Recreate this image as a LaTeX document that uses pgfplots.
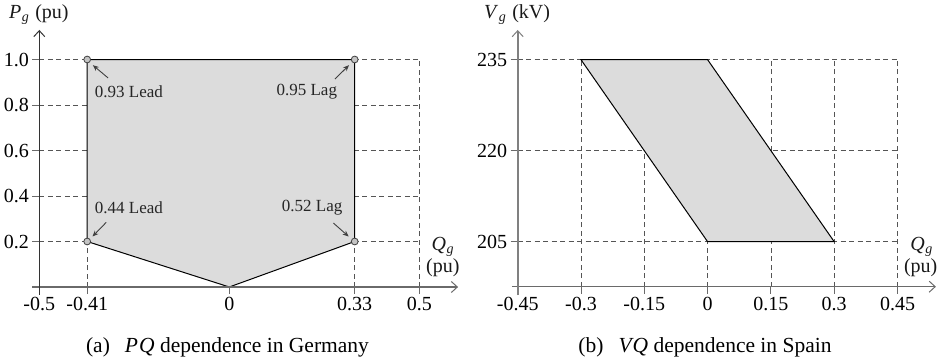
\documentclass[border=0pt]{standalone}
\usepackage{fontspec}
\setmainfont{Liberation Serif}
\usepackage{pgfplots}
\pgfplotsset{compat=1.18}
\usetikzlibrary{arrows.meta}
\definecolor{axgray}{HTML}{6A6A6A}
\definecolor{gridgray}{HTML}{555555}
\definecolor{fillgray}{HTML}{DCDCDC}
\definecolor{mkgray}{HTML}{C4C4C4}
\definecolor{anngray}{HTML}{404040}

\newcommand{\tickfont}{\fontsize{20}{22}\selectfont}
\pgfplotsset{myax/.style={
  scale only axis, clip=false, axis on top=false,
  font=\tickfont,
  axis line style={draw=none},
  tick align=outside, xtick pos=bottom, ytick pos=left,
  major tick length=7pt,
  tick style={draw=axgray, line width=0.9pt},
  grid=major,
  major grid style={draw=gridgray, line width=0.7pt, dash pattern=on 5pt off 3.5pt},
  tick label style={font=\tickfont},
  /pgf/number format/assume math mode=true,
}}
\tikzset{
  axarrow/.style={axgray, line width=1.3pt, -{Straight Barb[length=6pt,width=11pt,line width=1pt]}},
  annarrow/.style={anngray, line width=0.9pt, -{Stealth[length=6pt,width=5pt]}},
  ann/.style={font=\fontsize{17}{19}\selectfont, text=black!85},
  axlab/.style={font=\fontsize{20}{22}\selectfont, text=black!90},
}

\begin{document}
\begin{tikzpicture}
\useasboundingbox (0,0) rectangle (942pt,-361pt);

% ---------------- left panel ----------------
\begin{axis}[myax, at={(39.3pt,-287pt)}, anchor=south west,
  width=380pt, height=227.5pt,
  xmin=-0.5, xmax=0.5, ymin=0, ymax=1,
  xtick={-0.5,-0.374,0,0.33,0.5}, xticklabels={-0.5,-0.41,0,0.33,0.5},
  ytick={0.2,0.4,0.6,0.8,1.0}, yticklabels={0.2,0.4,0.6,0.8,1.0}]
\addplot[draw=black, line width=1pt, fill=fillgray]
  coordinates {(-0.374,0.2) (-0.374,1) (0.33,1) (0.33,0.2) (0,0)} -- cycle;
\draw[axarrow] (axis cs:-0.519,0) -- (axis cs:0.602,0);
\draw[black!80, line width=1pt, -{Straight Barb[length=6pt,width=11pt,line width=1pt]}] (axis cs:-0.5,-0.033) -- (axis cs:-0.5,1.13);
\draw[annarrow] (axis cs:-0.319,0.919) -- (axis cs:-0.359,0.975);
\draw[annarrow] (axis cs:0.278,0.914) -- (axis cs:0.315,0.975);
\draw[annarrow] (axis cs:-0.324,0.284) -- (axis cs:-0.360,0.222);
\draw[annarrow] (axis cs:0.274,0.281) -- (axis cs:0.314,0.222);
\addplot[only marks, mark=*, mark size=3.4pt,
  mark options={fill=mkgray, draw=anngray, line width=0.8pt}]
  coordinates {(-0.374,0.2) (-0.374,1) (0.33,1) (0.33,0.2)};
\node[ann] at (axis cs:-0.264,0.857) {0.93 Lead};
\node[ann] at (axis cs:0.204,0.857) {0.95 Lag};
\node[ann] at (axis cs:-0.264,0.347) {0.44 Lead};
\node[ann] at (axis cs:0.218,0.347) {0.52 Lag};
\node[axlab, anchor=west, inner sep=0pt] at (axis cs:-0.58,1.196) {\textit{P}\kern0.5pt\textsubscript{\textit{g}}\kern1pt\ (pu)};
\node[axlab] at (axis cs:0.562,0.177) {\textit{Q}\kern0.5pt\textsubscript{\textit{g}}};
\node[axlab] at (axis cs:0.562,0.084) {(pu)};
\end{axis}

% ---------------- right panel ----------------
\begin{axis}[myax, at={(517.7pt,-286.7pt)}, anchor=south west,
  width=379.8pt, height=227pt,
  xmin=-0.45, xmax=0.45, ymin=197.58, ymax=235,
  xtick={-0.45,-0.3,-0.15,0,0.15,0.3,0.45},
  xticklabels={-0.45,-0.3,-0.15,0,0.15,0.3,0.45},
  ytick={205,220,235}, yticklabels={205,220,235}]
\addplot[draw=black, line width=1pt, fill=fillgray]
  coordinates {(-0.3,235) (0,235) (0.3,205) (0,205)} -- cycle;
\draw[axarrow] (axis cs:-0.464,197.58) -- (axis cs:0.541,197.58);
\draw[axgray!85, line width=1.6pt, -{Straight Barb[length=6pt,width=11pt,line width=1pt]}] (axis cs:-0.45,196.2) -- (axis cs:-0.45,239.9);
\node[axlab, anchor=west, inner sep=0pt] at (axis cs:-0.53,242.4) {\textit{V}\kern0.5pt\textsubscript{\textit{g}}\kern1pt\ (kV)};
\node[axlab] at (axis cs:0.507,204.13) {\textit{Q}\kern0.5pt\textsubscript{\textit{g}}};
\node[axlab] at (axis cs:0.505,200.67) {(pu)};
\end{axis}

\node[font=\fontsize{21.5}{23}\selectfont] at (227.5pt,-347pt) {(a)\hspace{0.7em}\textit{P\kern1pt Q} dependence in Germany};
\node[font=\fontsize{21.5}{23}\selectfont] at (705pt,-347pt) {(b)\hspace{0.7em}\textit{V\kern1pt Q} dependence in Spain};
\end{tikzpicture}
\end{document}
